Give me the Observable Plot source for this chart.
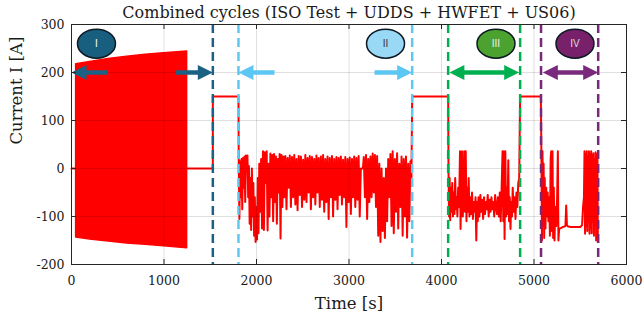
<!DOCTYPE html>
<html><head><meta charset="utf-8">
<script src="https://cdn.jsdelivr.net/npm/d3@7"></script>
<script src="https://cdn.jsdelivr.net/npm/@observablehq/plot@0.6"></script>
<style>body{margin:0;background:#fff}</style>
</head><body><div id="chart"></div>
<script>
// ---------- data ----------
const xTicks = [0, 1000, 2000, 3000, 4000, 5000, 6000];
const yTicks = [-200, -100, 0, 100, 200, 300];
const titleText = "Combined cycles (ISO Test + UDDS + HWFET + US06)";
const xLabel = "Time [s]";
const yLabel = "Current I [A]";

// ISO test pulse block (envelope)
const isoT  = [50, 200, 400, 600, 800, 1000, 1250];
const isoHi = [217, 222, 228, 233, 237, 240, 244];
const isoLo = [-144, -148, -152, -156, -159, -162, -166];

// rest before the ISO test
const restT = [0, 50];
const restI = [0, 0];

// rest after ISO test, and constant-current holds
const idleT = [1250, 1528];
const idleI = [0, 0];
const holdStart = [1528, 3683, 4850];
const holdEnd   = [1805, 4072, 5074];
const holdLevel = 150;

// UDDS
const uddsT = [1808,1815,1822,1830,1838,1846,1854,1862,1870,1878,1886,1894,1902,1910,1918,1926,1934,1942,1950,1958,1966,1974,1982,1990,1998,2006,2014,2022,2030,2040,2050,2060,2070,2080,2090,2100,2110,2120,2130,2140,2150,2160,2170,2180,2190,2200,2210,2220,2230,2240,2250,2260,2270,2280,2290,2300,2312,2324,2336,2348,2360,2372,2384,2396,2408,2420,2432,2444,2456,2468,2480,2492,2504,2516,2528,2540,2552,2564,2576,2588,2600,2612,2624,2636,2648,2660,2672,2684,2696,2708,2720,2732,2744,2756,2768,2780,2792,2804,2816,2828,2840,2852,2864,2876,2888,2900,2912,2924,2936,2948,2960,2972,2984,2996,3008,3020,3032,3044,3056,3068,3080,3092,3104,3116,3128,3150,3160,3172,3184,3196,3208,3220,3232,3244,3256,3268,3280,3292,3304,3316,3328,3340,3352,3364,3376,3388,3400,3412,3424,3436,3448,3460,3472,3484,3496,3508,3520,3532,3544,3556,3568,3580,3592,3604,3616,3628,3640,3652,3664,3675];
const uddsI = [12,-105,15,-60,20,-85,22,-40,25,-70,27,0,27,-60,5,-115,-20,-128,0,-100,-30,-140,-60,-153,-80,-148,-20,-135,10,-90,20,-125,36,-128,34,-30,36,-129,10,-100,31,-60,28,-110,30,-70,25,-115,20,-50,30,-146,28,-80,25,-60,26,-85,22,-40,27,-80,24,-60,28,-75,20,-87,26,-55,25,-80,18,-65,28,-70,22,-50,26,-85,24,-60,20,-75,27,-50,22,-80,25,-65,28,-90,20,-70,25,-105,22,-60,26,-100,20,-65,24,-85,22,-55,25,-75,18,-60,24,-122,20,-70,23,-95,20,-60,25,-80,22,-65,26,-100,0,0,24,-60,28,-105,20,-70,25,-60,31,-50,28,-80,26,-140,10,-153,0,-130,-20,-145,0,-110,20,-60,30,-120,36,-135,20,-90,32,-125,10,-80,25,-140,20,-100,25,-144,10,-110,15,-20];

// HWFET
const hwfetT = [4076,4082,4088,4094,4100,4108,4116,4124,4132,4140,4148,4156,4164,4172,4180,4190,4200,4206,4214,4222,4230,4238,4246,4254,4262,4270,4278,4286,4294,4302,4310,4320,4330,4340,4350,4360,4368,4376,4384,4392,4400,4410,4420,4430,4440,4450,4460,4470,4480,4490,4500,4510,4520,4530,4540,4550,4560,4570,4580,4590,4600,4610,4620,4630,4640,4650,4660,4668,4674,4682,4690,4698,4706,4714,4722,4730,4738,4746,4754,4762,4770,4780,4790,4800,4810,4820,4830,4840];
const hwfetI = [-10,-100,-20,-108,-40,-90,-30,-100,-50,-95,-20,-85,-60,-100,-40,-80,36,-126,-40,36,-100,-60,36,-90,36,-110,-40,-90,-20,-100,-60,-95,-50,-105,-70,-90,-60,-150,-70,-110,-60,-100,-55,-90,-65,-105,-60,-95,-70,-85,-55,-100,-65,-90,-60,-85,-70,-100,-55,-80,-95,-60,-100,-50,-110,-40,36,-110,36,-147,36,-100,-40,-95,17,-110,-60,-126,-70,-100,-40,-90,-60,-105,-50,-80,-30,-20];

// US06
const us06T = [5080,5086,5092,5098,5104,5110,5116,5124,5132,5140,5148,5156,5164,5172,5180,5186,5192,5200,5207,5214,5222,5230,5240,5250,5258,5264,5272,5290,5310,5325,5340,5348,5356,5370,5400,5450,5500,5520,5530,5540,5546,5552,5558,5564,5570,5576,5582,5588,5594,5600,5606,5612,5618,5624,5630,5636,5642,5648,5654,5660,5666,5672,5680,5686,5690];
const us06I = [30,-150,36,-120,10,-145,-20,-125,-40,-100,-50,-110,-60,-140,20,36,-130,36,-145,-40,-150,-80,-120,-60,36,-150,-126,-124,-122,-121,-120,-77,-118,-121,-122,-122,-122,-118,-81,-60,36,-136,30,-120,36,-130,25,-110,36,-136,30,-125,36,-135,28,-110,32,-140,20,-120,34,-150,-60,30,-150];

// phase boundaries, arrows and labels
const bounds = [
  {t: 1528, c: "#1b6183"}, {t: 1805, c: "#5fc8f0"},
  {t: 3683, c: "#5fc8f0"}, {t: 4072, c: "#00b050"},
  {t: 4850, c: "#00b050"}, {t: 5076, c: "#782a78"},
  {t: 5694, c: "#782a78"}
];
const arrowY = 200;
const singleArrows = [
  {from: 390,  to: 0,    c: "#1b6183"},
  {from: 1124, to: 1528, c: "#1b6183"},
  {from: 2195, to: 1805, c: "#5bc7f2"},
  {from: 3276, to: 3683, c: "#5bc7f2"}
];
const doubleArrows = [
  {from: 4085, to: 4840, c: "#00b050"},
  {from: 5095, to: 5694, c: "#7a2a7c"}
];
const phases = [
  {t: 270,  v: 260, label: "I",   fill: "#175e7f", ink: "#ffffff"},
  {t: 3395, v: 260, label: "II",  fill: "#9ad9f6", ink: "#333333"},
  {t: 4589, v: 260, label: "III", fill: "#4ca22f", ink: "#f2f2f2"},
  {t: 5443, v: 260, label: "IV",  fill: "#79206b", ink: "#dddddd"}
];

// ---------- tables ----------
const isoData = isoT.map((t, k) => ({t, hi: isoHi[k], lo: isoLo[k]}));
const sig = [];
restT.forEach((t, k) => sig.push({t, i: restI[k], seg: 0}));
idleT.forEach((t, k) => sig.push({t, i: idleI[k], seg: 1}));
const pushHold = (k) => { sig.push({t: holdStart[k], i: holdLevel, seg: 1}); sig.push({t: holdEnd[k], i: holdLevel, seg: 1}); };
pushHold(0);
uddsT.forEach((t, k) => sig.push({t, i: uddsI[k], seg: 1}));
pushHold(1);
hwfetT.forEach((t, k) => sig.push({t, i: hwfetI[k], seg: 1}));
pushHold(2);
us06T.forEach((t, k) => sig.push({t, i: us06I[k], seg: 1}));

const heads = [];
singleArrows.forEach(a => heads.push({t: a.to, rot: a.to > a.from ? 0 : 180, c: a.c}));
doubleArrows.forEach(a => { heads.push({t: a.to, rot: 0, c: a.c}); heads.push({t: a.from, rot: 180, c: a.c}); });

const headSym = {draw(ctx) { ctx.moveTo(0, 0); ctx.lineTo(-15, -7.5); ctx.lineTo(-15, 7.5); ctx.closePath(); }};
const ellipseSym = {draw(ctx) {
  const rx = 19, ry = 14.5, k = 0.5523;
  ctx.moveTo(rx, 0);
  ctx.bezierCurveTo(rx, ry * k, rx * k, ry, 0, ry);
  ctx.bezierCurveTo(-rx * k, ry, -rx, ry * k, -rx, 0);
  ctx.bezierCurveTo(-rx, -ry * k, -rx * k, -ry, 0, -ry);
  ctx.bezierCurveTo(rx * k, -ry, rx, -ry * k, rx, 0);
  ctx.closePath();
}};

const ink = "#262626";
const serif = "DejaVu Serif";
const chart = Plot.plot({
  width: 642, height: 318,
  marginLeft: 71, marginRight: 16, marginTop: 24, marginBottom: 54,
  style: {fontFamily: serif, background: "#ffffff", overflow: "visible"},
  x: {domain: [0, 6000]},
  y: {domain: [-200, 300]},
  color: {type: "identity"},
  marks: [
    Plot.areaY(isoData, {x: "t", y1: "lo", y2: "hi", fill: "#ff0000", stroke: "#ff0000", strokeWidth: 1.5}),
    Plot.line(sig, {x: "t", y: "i", z: "seg", stroke: "#ff0000", strokeWidth: 2}),
    Plot.gridX(xTicks, {stroke: "#000", strokeOpacity: 0.12}),
    Plot.gridY(yTicks, {stroke: "#000", strokeOpacity: 0.12}),
    Plot.ruleX(bounds, {x: "t", stroke: "c", strokeWidth: 2.5, strokeDasharray: "9,5"}),
    Plot.arrow(singleArrows, {x1: "from", x2: "to", y1: arrowY, y2: arrowY, stroke: "c", strokeWidth: 4.5, headLength: 0, insetEnd: 12, strokeLinecap: "butt"}),
    Plot.arrow(doubleArrows, {x1: "from", x2: "to", y1: arrowY, y2: arrowY, stroke: "c", strokeWidth: 4.5, headLength: 0, insetStart: 12, insetEnd: 12, strokeLinecap: "butt"}),
    Plot.dot(heads, {x: "t", y: arrowY, symbol: headSym, fill: "c", rotate: "rot", stroke: null}),
    Plot.dot(phases, {x: "t", y: "v", symbol: ellipseSym, fill: "fill", stroke: "#0d1a24", strokeWidth: 1.5}),
    Plot.text(phases, {x: "t", y: "v", text: "label", fill: "ink", fontFamily: "Liberation Sans", fontSize: 10}),
    Plot.frame({stroke: ink, strokeWidth: 1}),
    Plot.ruleX(xTicks, {x: d => d, insetTop: 235, stroke: ink}),
    Plot.ruleX(xTicks, {x: d => d, insetBottom: 235, stroke: ink}),
    Plot.ruleY(yTicks, {y: d => d, insetRight: 550, stroke: ink}),
    Plot.ruleY(yTicks, {y: d => d, insetLeft: 550, stroke: ink}),
    Plot.axisX(xTicks, {tickSize: 0, tickPadding: 12, fontSize: 12.5, fontFamily: serif, tickFormat: d => String(d), label: null, color: "#1a1a1a"}),
    Plot.axisY(yTicks, {tickSize: 0, tickPadding: 7, fontSize: 12.5, fontFamily: serif, tickFormat: d => String(d), label: null, color: "#1a1a1a"}),
    Plot.text([xLabel], {text: d => d, frameAnchor: "bottom", dy: 39, fontSize: 16.5, fontFamily: serif, lineAnchor: "middle", fill: "#1a1a1a"}),
    Plot.text([yLabel], {text: d => d, frameAnchor: "left", dx: -55, rotate: -90, fontSize: 16.5, fontFamily: serif, lineAnchor: "middle", fill: "#1a1a1a"}),
    Plot.text([titleText], {text: d => d, frameAnchor: "top", dy: -12, fontSize: 16, fontFamily: serif, lineAnchor: "middle", fill: "#1a1a1a"})
  ]
});
document.getElementById("chart").appendChild(chart);
</script>
</body></html>
